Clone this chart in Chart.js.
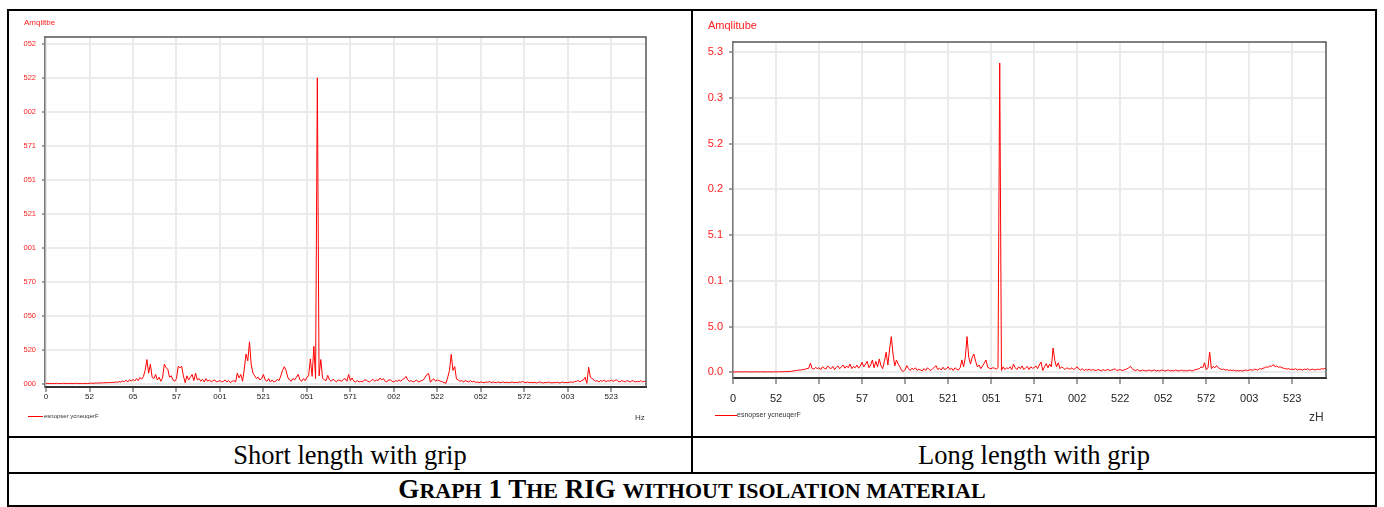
<!DOCTYPE html>
<html><head><meta charset="utf-8">
<script src="https://cdn.jsdelivr.net/npm/chart.js@4.4.1/dist/chart.umd.min.js"></script>
<style>
body{margin:0;background:#fff;width:1384px;height:507px;overflow:hidden;position:relative;font-family:"Liberation Sans",Arial,sans-serif;}
.ln{position:absolute;background:#000;}
.t{position:absolute;white-space:nowrap;line-height:1;}
.cell{position:absolute;display:flex;align-items:center;justify-content:center;font-family:"Liberation Serif","Times New Roman",serif;color:#000;white-space:nowrap;}
.sc{font-size:22px;}
canvas{position:absolute;}
</style></head><body>
<div class="ln" style="left:7px;top:9px;width:1370px;height:2px"></div>
<div class="ln" style="left:7px;top:505px;width:1370px;height:2px"></div>
<div class="ln" style="left:7px;top:9px;width:2px;height:498px"></div>
<div class="ln" style="left:1375px;top:9px;width:2px;height:498px"></div>
<div class="ln" style="left:691px;top:9px;width:2px;height:465px"></div>
<div class="ln" style="left:7px;top:436px;width:1370px;height:2px"></div>
<div class="ln" style="left:7px;top:472px;width:1370px;height:2px"></div>

<canvas id="c1" width="680" height="424" style="left:10px;top:12px"></canvas>
<canvas id="c2" width="680" height="424" style="left:694px;top:12px"></canvas>

<div class="t" style="left:24px;top:19px;font-size:8px;color:#ff2020;">Amqlitbe</div>
<div class="t" style="left:708px;top:20px;font-size:11px;color:#ff2020;">Amqlitube</div>
<div class="ln" style="left:28px;top:416px;width:15px;height:1px;background:#ff0000"></div>
<div class="t" style="left:44px;top:413px;font-size:6px;color:#333;">esnopser ycneuqerF</div>
<div class="ln" style="left:715px;top:415px;width:22px;height:1px;background:#ff0000"></div>
<div class="t" style="left:737px;top:411px;font-size:7px;color:#333;">esnopser ycneuqerF</div>
<div class="t" style="left:635px;top:414px;font-size:8px;color:#333;">Hz</div>
<div class="t" style="left:1309px;top:411px;font-size:12px;color:#333;">zH</div>

<div class="cell" style="left:9px;top:438px;width:682px;height:34px;font-size:26.5px;">Short length with grip</div>
<div class="cell" style="left:693px;top:438px;width:682px;height:34px;font-size:26.5px;">Long length with grip</div>
<div class="cell" style="left:9px;top:474px;width:1366px;height:31px;font-size:27px;font-weight:bold;"><span>G<span class="sc">RAPH</span> 1 T<span class="sc">HE</span> RIG <span class="sc">WITHOUT ISOLATION MATERIAL</span></span></div>

<script>
const freqHz = Array.from({length: 346}, (_, i) => i);

const shortGripAmp = [
0.3,0.4,0.3,0.5,0.4,0.3,0.5,0.4,0.3,0.4,
0.5,0.4,0.3,0.4,0.5,0.3,0.4,0.5,0.4,0.3,
0.4,0.3,0.5,0.4,0.3,0.5,0.6,0.5,0.7,0.6,
0.8,0.7,0.9,0.8,1.0,0.9,1.1,1.0,1.3,1.1,
1.5,1.2,1.8,1.4,2.2,1.6,2.8,1.5,3.2,2.0,
3.5,2.2,4.0,2.5,4.8,3.5,5.5,10.0,18.0,8.0,
14.5,5.0,4.0,7.0,3.0,5.0,2.0,4.5,14.5,12.0,
11.0,5.0,6.0,3.0,2.0,4.0,13.0,12.0,13.0,6.0,
1.0,6.0,3.0,5.0,7.0,2.5,8.0,3.0,4.0,2.0,
3.5,1.5,4.0,2.0,3.0,1.5,2.5,3.0,1.5,2.0,
2.5,1.5,2.0,3.0,1.5,2.5,1.0,2.0,2.5,1.5,
8.0,4.5,7.0,2.0,11.0,22.0,17.0,31.0,14.0,8.0,
6.0,4.0,5.0,3.0,4.0,7.0,3.0,2.0,4.0,1.5,
3.0,1.5,2.0,3.5,2.5,6.0,10.0,12.7,10.0,5.0,
3.0,2.0,4.0,3.0,5.0,7.0,3.0,2.0,4.0,2.5,
5.0,6.0,18.5,5.6,27.7,4.0,225.0,6.0,18.0,4.4,
3.0,2.5,6.4,3.0,2.0,3.5,2.5,1.5,3.0,2.5,
2.0,3.5,4.0,2.0,7.0,2.5,4.5,2.0,1.5,2.5,
1.5,2.0,1.5,3.0,3.0,2.0,1.5,2.5,3.5,2.0,
3.0,2.5,4.4,3.0,4.0,2.0,1.5,3.0,3.0,2.0,
1.5,2.5,2.0,3.0,2.0,3.5,4.0,5.6,3.0,2.0,
2.5,1.5,2.0,3.0,1.5,2.0,2.5,3.0,5.0,7.0,
7.7,1.3,3.0,3.8,2.0,3.0,2.5,2.0,1.5,1.0,
0.5,5.0,10.0,21.8,10.0,12.8,3.8,3.0,2.0,2.5,
1.5,2.5,2.0,1.5,2.5,1.5,2.0,1.2,1.5,1.0,
1.5,1.2,1.0,1.5,1.2,1.8,1.0,1.5,1.2,1.0,
1.5,1.0,1.2,1.5,1.0,1.3,1.0,1.2,1.5,1.0,
1.2,1.0,1.5,1.3,1.8,1.2,1.0,1.5,1.0,1.2,
1.0,1.3,0.8,1.2,1.5,1.0,0.8,1.2,1.0,1.5,
1.0,0.8,1.2,1.0,1.3,0.8,1.0,1.5,1.0,1.2,
1.0,1.3,1.5,1.2,1.8,2.0,2.5,1.5,2.5,3.0,
5.0,0.5,12.3,5.0,4.0,3.0,2.0,2.5,1.5,2.5,
2.0,3.0,1.5,2.5,2.0,3.0,2.0,2.5,3.0,2.0,
1.5,2.5,2.0,1.5,2.5,2.0,1.5,2.5,2.0,1.5,
2.0,1.5,2.5,1.5,2.0,1.5
];

const longGripAmp = [
0.05,0.04,0.05,0.06,0.05,0.04,0.05,0.06,0.05,0.04,
0.05,0.04,0.05,0.06,0.05,0.04,0.05,0.06,0.05,0.04,
0.05,0.06,0.05,0.04,0.05,0.06,0.05,0.06,0.07,0.06,
0.08,0.07,0.10,0.09,0.12,0.15,0.18,0.20,0.25,0.22,
0.30,0.28,0.35,0.40,0.45,1.00,0.40,0.35,0.55,0.40,
0.50,0.30,0.60,0.45,0.35,0.70,0.50,0.40,0.65,0.30,
0.55,0.70,0.40,0.60,0.80,0.45,0.70,0.50,0.90,0.40,
0.65,0.50,0.80,0.45,0.70,1.10,0.60,0.90,1.20,0.50,
0.80,1.35,0.50,1.20,0.60,1.46,0.70,0.40,1.20,2.20,
0.80,2.55,3.90,2.00,0.70,1.35,0.90,0.60,0.20,0.10,
0.30,0.73,0.40,0.20,0.45,0.30,0.50,0.20,0.35,0.25,
0.15,0.40,0.20,0.50,0.30,0.20,0.40,0.55,0.73,0.30,
0.45,0.25,0.55,0.30,0.40,0.60,0.30,0.45,0.20,0.50,
0.35,0.25,0.50,1.35,0.60,1.65,3.90,1.65,0.90,1.65,
2.00,1.20,0.60,0.80,0.40,0.70,1.00,1.35,0.55,0.45,
0.40,0.50,0.45,0.35,0.50,33.8,0.20,0.60,0.30,0.50,
0.40,0.60,0.30,0.90,0.50,0.30,0.60,0.40,0.70,0.30,
0.50,0.65,0.30,0.60,0.45,0.50,0.70,0.40,0.80,1.13,
0.20,0.60,0.95,0.50,0.90,0.60,2.66,1.30,0.60,1.05,
0.40,0.60,0.45,0.30,0.50,0.40,0.35,0.50,0.30,0.45,
0.60,0.35,0.25,0.40,0.20,0.30,0.25,0.35,0.20,0.30,
0.25,0.20,0.30,0.25,0.15,0.30,0.20,0.25,0.30,0.20,
0.25,0.30,0.40,0.20,0.25,0.30,0.20,0.25,0.30,0.40,
0.50,0.65,0.40,0.25,0.20,0.30,0.20,0.15,0.25,0.20,
0.15,0.20,0.25,0.15,0.20,0.25,0.15,0.20,0.15,0.25,
0.20,0.15,0.20,0.25,0.15,0.20,0.15,0.25,0.20,0.15,
0.20,0.25,0.15,0.20,0.15,0.25,0.20,0.15,0.25,0.30,
0.35,0.40,0.60,0.50,1.05,0.30,0.50,2.20,0.40,0.65,
0.50,0.75,0.50,0.40,0.30,0.35,0.25,0.30,0.20,0.25,
0.20,0.25,0.15,0.20,0.15,0.20,0.15,0.20,0.25,0.20,
0.25,0.30,0.20,0.35,0.30,0.25,0.40,0.35,0.45,0.50,
0.60,0.55,0.70,0.65,0.85,0.60,0.70,0.55,0.60,0.50,
0.45,0.40,0.35,0.40,0.30,0.35,0.30,0.40,0.25,0.35,
0.30,0.25,0.35,0.30,0.40,0.25,0.30,0.35,0.25,0.30,
0.35,0.30,0.40,0.35,0.45,0.35
];

const xTicks = [0,25,50,75,100,125,150,175,200,225,250,275,300,325];
const xTickLabels = ["0","52","05","57","001","521","051","571","002","522","052","572","003","523"];
const shortYTicks = [0,25,50,75,100,125,150,175,200,225,250];
const shortYTickLabels = ["000","520","050","570","001","521","051","571","002","522","052"];
const longYTicks = [0,5,10,15,20,25,30,35];
const longYTickLabels = ["0.0","5.0","0.1","5.1","0.2","5.2","0.3","5.3"];

const framePlugin = {
  id: 'frame',
  afterDatasetsDraw(chart) {
    const {ctx, chartArea: a} = chart;
    ctx.save();
    ctx.strokeStyle = '#555';
    ctx.lineWidth = 1.5;
    ctx.beginPath();
    ctx.moveTo(a.left, a.top);
    ctx.lineTo(a.right, a.top);
    ctx.lineTo(a.right, a.bottom);
    ctx.stroke();
    ctx.restore();
  }
};

function makeChart(id, amps, o) {
  const pts = freqHz.map((f, i) => ({x: f, y: amps[i]}));
  return new Chart(document.getElementById(id), {
    type: 'line',
    data: {datasets: [{data: pts, borderColor: '#ff0000', borderWidth: 1, pointRadius: 0, tension: 0, fill: false}]},
    options: {
      responsive: false, animation: false, devicePixelRatio: 1,
      layout: {padding: {left: 0, top: o.padTop, right: o.padRight, bottom: 0}},
      plugins: {legend: {display: false}, tooltip: {enabled: false}},
      scales: {
        x: {
          type: 'linear', min: o.xMin, max: o.xMax,
          afterFit(s) { s.height = o.xHeight; },
          afterBuildTicks(s) { s.ticks = xTicks.map(v => ({value: v})); },
          ticks: {autoSkip: false, maxRotation: 0, padding: o.xPad, color: '#222',
                  font: {family: 'Liberation Sans', size: o.xFont},
                  callback: (v, i) => xTickLabels[i]},
          grid: {color: '#ebebeb', lineWidth: 2, tickColor: '#444', tickWidth: 1, tickLength: o.xTickLen},
          border: {color: '#333', width: 2}
        },
        y: {
          type: 'linear', min: o.yMin, max: o.yMax,
          afterFit(s) { s.width = o.yWidth; },
          afterBuildTicks(s) { s.ticks = o.yTicks.map(v => ({value: v})); },
          ticks: {autoSkip: false, padding: o.yPad, color: '#ff2020',
                  font: {family: 'Liberation Sans', size: o.yFont},
                  callback: (v, i) => o.yLabels[i]},
          grid: {color: '#ebebeb', lineWidth: 2, tickColor: '#444', tickWidth: 1, tickLength: o.yTickLen},
          border: {color: '#777', width: 1.5}
        }
      }
    },
    plugins: [framePlugin]
  });
}

makeChart('c1', shortGripAmp, {
  padTop: 25, padRight: 44, xHeight: 49, yWidth: 35,
  xMin: -0.6, xMax: 345, yMin: -2.2, yMax: 255,
  yTicks: shortYTicks, yLabels: shortYTickLabels,
  xFont: 8, yFont: 7.5, xPad: 0, yPad: 6, xTickLen: 5, yTickLen: 3
});
makeChart('c2', longGripAmp, {
  padTop: 30, padRight: 48, xHeight: 58, yWidth: 39,
  xMin: 0, xMax: 344.6, yMin: -0.62, yMax: 36.1,
  yTicks: longYTicks, yLabels: longYTickLabels,
  xFont: 11, yFont: 11, xPad: 8, yPad: 6, xTickLen: 6, yTickLen: 4
});
</script>
</body></html>
